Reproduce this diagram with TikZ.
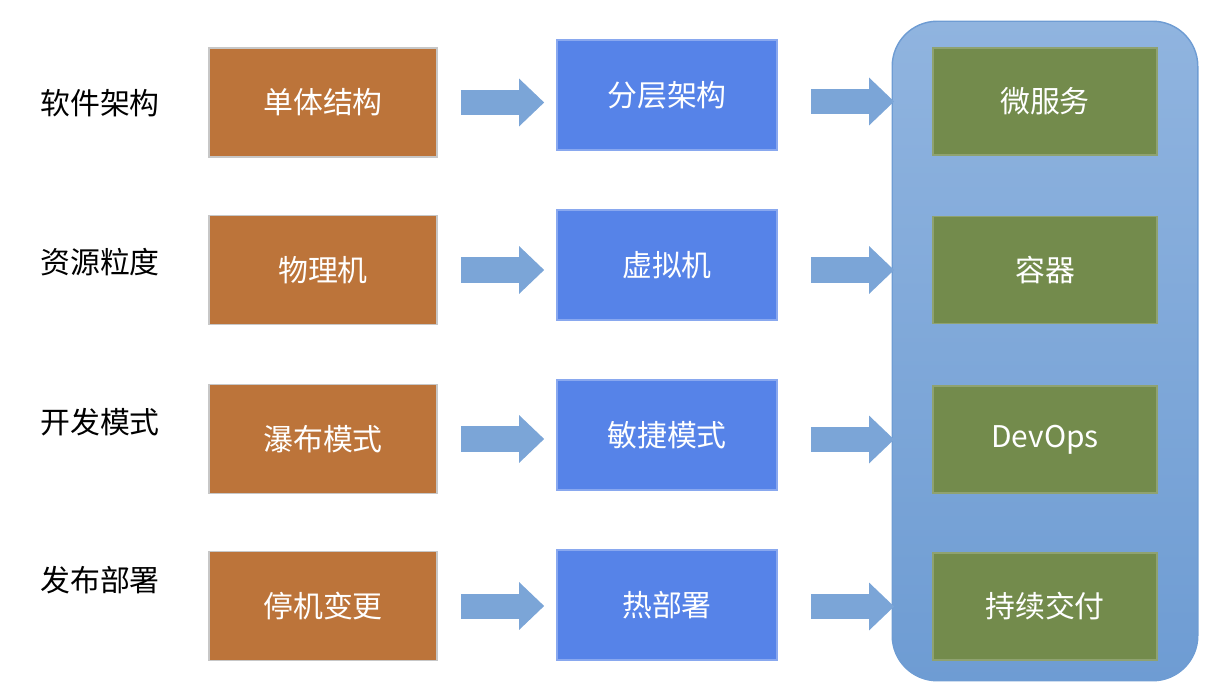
\documentclass[tikz,border=0pt]{standalone}
\usepackage{fontspec}
\setmainfont{Noto Sans CJK SC}
\usetikzlibrary{arrows.meta,positioning,fit,backgrounds}
\definecolor{brick}{HTML}{BC743A}
\definecolor{cobalt}{HTML}{5683E8}
\definecolor{moss}{HTML}{738B4C}
\definecolor{sky}{HTML}{7BA5D7}
\definecolor{skytop}{HTML}{90B4DF}
\definecolor{skybot}{HTML}{6E9CD3}

\begin{document}
\begin{tikzpicture}[x=0.01cm, y=-0.01cm,
      box/.style={draw=black!22, line width=.4pt, minimum height=1.09cm,
        align=center, text=white, font=\fontsize{8.5}{10}\selectfont},
      old/.style={box, fill=brick, minimum width=2.28cm},
      mid/.style={box, fill=cobalt, draw=cobalt!70!white, minimum width=2.2cm, minimum height=1.1cm},
      new/.style={box, fill=moss, draw=moss!80!white, minimum width=2.24cm, minimum height=1.07cm},
      lbl/.style={font=\fontsize{8.5}{10}\selectfont},
      fat/.style={-{Triangle[length=.25cm, width=.46cm]}, line width=.25cm, draw=sky}
    ]
      \useasboundingbox (0,0) rectangle (1218,700);
      % row labels
      \node[lbl] (l1) at (100,103) {软件架构};
      \node[lbl] (l2) at (100,262) {资源粒度};
      \node[lbl] (l3) at (100,422) {开发模式};
      \node[lbl] (l4) at (100,580) {发布部署};
      % before
      \node[old] (o1) at (323,102.5) {单体结构};
      \node[old] (o2) at (323,270) {物理机};
      \node[old] (o3) at (323,439) {瀑布模式};
      \node[old] (o4) at (323,606) {停机变更};
      % in between
      \node[mid] (b1) at (667,95) {分层架构};
      \node[mid] (b2) at (667,265) {虚拟机};
      \node[mid] (b3) at (667,435) {敏捷模式};
      \node[mid] (b4) at (667,605) {热部署};
      % now
      \node[new] (g1) at (1045,101.5) {微服务};
      \node[new] (g2) at (1045,270) {容器};
      \node[new] (g3) at (1045,439.5) {DevOps};
      \node[new] (g4) at (1045,606.5) {持续交付};
      \begin{scope}[on background layer]
        \node[fit=(g1)(g4), inner xsep=.4cm, inner ysep=.23cm, yshift=.03cm,
          rounded corners=.45cm, top color=skytop, bottom color=skybot,
          draw=skybot, line width=.4pt] (cloud) {};
      \end{scope}
      \foreach \i in {1,...,4} {
        \draw[fat, shorten <=.23cm, shorten >=.12cm] (o\i.east) -- (o\i.east -| b\i.west);
        \draw[fat, shorten <=.33cm, shorten >=.38cm] (g\i.west -| b\i.east) -- (g\i.west);
      }
    \end{tikzpicture}
\end{document}
